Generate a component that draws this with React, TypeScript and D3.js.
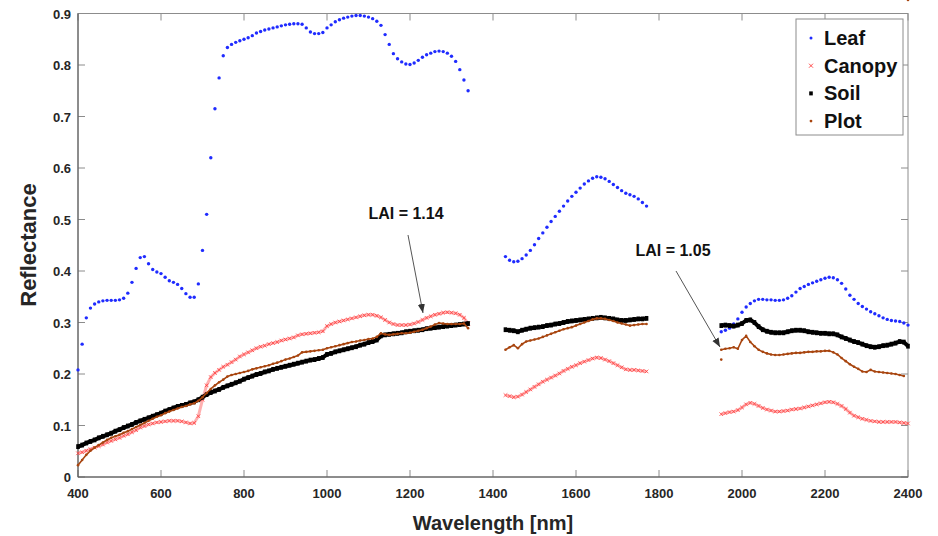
import React from "react";
import * as d3 from "d3";

const W = 938;
const H = 536;

// wavelength grids (nm) of the three measured windows
const wl1 = d3.range(400, 1341, 10);
const wl2 = d3.range(1430, 1771, 10);
const wl3 = d3.range(1950, 2401, 10);

const leaf1 = [0.208,0.258,0.309,0.328,0.336,0.34,0.342,0.343,0.343,0.343,0.344,0.347,0.357,0.378,0.405,0.426,0.428,0.414,0.403,0.398,0.395,0.388,0.381,0.378,0.374,0.366,0.356,0.349,0.349,0.375,0.44,0.51,0.62,0.715,0.775,0.818,0.834,0.84,0.844,0.847,0.85,0.853,0.857,0.862,0.865,0.868,0.87,0.872,0.874,0.876,0.878,0.879,0.88,0.88,0.879,0.872,0.864,0.861,0.861,0.863,0.872,0.878,0.884,0.888,0.891,0.893,0.895,0.896,0.896,0.895,0.893,0.89,0.885,0.877,0.859,0.84,0.822,0.812,0.806,0.802,0.801,0.804,0.809,0.815,0.82,0.823,0.826,0.827,0.826,0.823,0.817,0.807,0.791,0.771,0.75];
const leaf2 = [0.428,0.421,0.418,0.419,0.424,0.431,0.44,0.451,0.463,0.474,0.485,0.496,0.506,0.516,0.526,0.536,0.545,0.553,0.561,0.569,0.575,0.58,0.583,0.582,0.579,0.574,0.568,0.562,0.556,0.551,0.548,0.545,0.54,0.533,0.526];
const leaf3 = [0.282,0.285,0.289,0.297,0.307,0.32,0.33,0.337,0.342,0.345,0.345,0.344,0.344,0.343,0.343,0.344,0.347,0.352,0.359,0.366,0.37,0.374,0.377,0.38,0.383,0.386,0.388,0.387,0.383,0.376,0.365,0.353,0.345,0.337,0.331,0.326,0.321,0.317,0.313,0.309,0.306,0.304,0.303,0.302,0.299,0.295];

const canopy1 = [0.046,0.048,0.051,0.054,0.057,0.06,0.063,0.067,0.07,0.073,0.076,0.08,0.083,0.087,0.091,0.096,0.099,0.102,0.104,0.106,0.107,0.108,0.109,0.109,0.109,0.108,0.106,0.104,0.105,0.118,0.15,0.178,0.194,0.202,0.208,0.214,0.218,0.223,0.228,0.234,0.238,0.242,0.246,0.25,0.253,0.255,0.258,0.26,0.262,0.265,0.267,0.269,0.271,0.275,0.277,0.278,0.279,0.28,0.281,0.283,0.293,0.297,0.3,0.302,0.304,0.306,0.308,0.31,0.312,0.314,0.315,0.315,0.313,0.31,0.305,0.3,0.297,0.295,0.295,0.295,0.296,0.298,0.301,0.305,0.309,0.312,0.315,0.317,0.319,0.32,0.319,0.318,0.315,0.309,0.298];
const canopy2 = [0.159,0.157,0.155,0.156,0.16,0.165,0.17,0.175,0.18,0.185,0.189,0.193,0.197,0.201,0.206,0.21,0.214,0.217,0.221,0.224,0.227,0.23,0.232,0.231,0.228,0.225,0.221,0.217,0.213,0.209,0.208,0.208,0.207,0.206,0.205];
const canopy3 = [0.122,0.124,0.126,0.127,0.13,0.135,0.141,0.144,0.142,0.138,0.134,0.131,0.129,0.127,0.127,0.128,0.129,0.131,0.132,0.133,0.135,0.137,0.139,0.141,0.143,0.145,0.146,0.145,0.142,0.138,0.132,0.125,0.119,0.116,0.113,0.111,0.109,0.108,0.107,0.107,0.107,0.107,0.107,0.106,0.105,0.104];

const soil1 = [0.059,0.062,0.066,0.069,0.072,0.076,0.079,0.082,0.085,0.089,0.092,0.096,0.099,0.102,0.106,0.109,0.112,0.115,0.118,0.121,0.124,0.128,0.131,0.134,0.137,0.139,0.141,0.144,0.146,0.15,0.155,0.16,0.164,0.167,0.17,0.174,0.177,0.18,0.183,0.186,0.19,0.193,0.196,0.199,0.201,0.204,0.206,0.209,0.211,0.213,0.215,0.217,0.219,0.221,0.223,0.225,0.227,0.228,0.23,0.232,0.238,0.24,0.243,0.245,0.247,0.249,0.251,0.253,0.256,0.258,0.261,0.263,0.266,0.274,0.276,0.277,0.278,0.279,0.28,0.282,0.283,0.284,0.285,0.286,0.288,0.289,0.29,0.291,0.292,0.293,0.294,0.295,0.296,0.297,0.298];
const soil2 = [0.286,0.285,0.284,0.282,0.285,0.287,0.289,0.29,0.291,0.292,0.294,0.295,0.297,0.298,0.3,0.302,0.303,0.304,0.305,0.306,0.307,0.308,0.309,0.31,0.309,0.308,0.307,0.305,0.304,0.304,0.305,0.306,0.307,0.307,0.308];
const soil3 = [0.294,0.295,0.294,0.293,0.295,0.298,0.304,0.305,0.3,0.292,0.286,0.283,0.281,0.28,0.28,0.28,0.282,0.284,0.285,0.285,0.284,0.282,0.281,0.28,0.279,0.279,0.278,0.278,0.276,0.272,0.269,0.266,0.263,0.261,0.258,0.255,0.253,0.252,0.253,0.255,0.256,0.258,0.26,0.263,0.262,0.254];

const plot1 = [0.023,0.033,0.043,0.051,0.057,0.062,0.067,0.072,0.076,0.079,0.082,0.086,0.089,0.093,0.097,0.101,0.105,0.109,0.113,0.117,0.12,0.124,0.127,0.13,0.133,0.136,0.138,0.141,0.143,0.148,0.155,0.163,0.171,0.178,0.184,0.189,0.195,0.198,0.2,0.202,0.204,0.206,0.209,0.211,0.213,0.215,0.217,0.22,0.222,0.225,0.228,0.23,0.233,0.236,0.242,0.243,0.244,0.245,0.246,0.247,0.25,0.252,0.254,0.256,0.258,0.26,0.262,0.263,0.265,0.266,0.268,0.269,0.272,0.279,0.277,0.276,0.277,0.278,0.279,0.279,0.28,0.282,0.284,0.286,0.289,0.292,0.296,0.299,0.298,0.297,0.297,0.297,0.297,0.298,0.289];
const plot2 = [0.247,0.252,0.256,0.25,0.258,0.263,0.265,0.267,0.269,0.272,0.275,0.278,0.281,0.284,0.287,0.289,0.291,0.294,0.297,0.3,0.303,0.306,0.308,0.308,0.307,0.305,0.303,0.3,0.298,0.296,0.294,0.295,0.296,0.297,0.297];
const plot3 = [0.228,0.247,0.249,0.25,0.252,0.249,0.266,0.274,0.262,0.254,0.247,0.243,0.24,0.238,0.237,0.237,0.238,0.239,0.24,0.241,0.241,0.242,0.243,0.243,0.244,0.244,0.245,0.245,0.242,0.238,0.231,0.225,0.219,0.214,0.21,0.205,0.204,0.208,0.205,0.204,0.203,0.202,0.201,0.2,0.198,0.196];

const xTicks = [400, 600, 800, 1000, 1200, 1400, 1600, 1800, 2000, 2200, 2400];
const yTicks = [0, 0.1, 0.2, 0.3, 0.4, 0.5, 0.6, 0.7, 0.8, 0.9];
const legendNames = ["Leaf", "Canopy", "Soil", "Plot"];

const C_LEAF = "#1f2bff";
const C_CANOPY = "#ff3b3b";
const C_SOIL = "#000000";
const C_PLOT = "#a8450f";

const FONT = "Arial, 'Liberation Sans', Helvetica, sans-serif";

type Pt = [number, number];
const zip = (w: number[], v: number[]): Pt[] => w.map((d, i) => [d, v[i]] as Pt);

export default function App() {
  const x = d3.scaleLinear().domain([400, 2400]).range([78, 908]);
  const y = d3.scaleLinear().domain([0, 0.9]).range([477, 13.5]);
  const line = d3
    .line<Pt>()
    .x((d) => x(d[0]))
    .y((d) => y(d[1]));

  const leaf = [zip(wl1, leaf1), zip(wl2, leaf2), zip(wl3, leaf3)];
  const canopy = [zip(wl1, canopy1), zip(wl2, canopy2), zip(wl3, canopy3)];
  const soil = [zip(wl1, soil1), zip(wl2, soil2), zip(wl3, soil3)];
  const plot = [zip(wl1, plot1), zip(wl2, plot2), zip(wl3, plot3.slice(1))];
  const plotIsolated = zip(wl3.slice(0, 1), plot3.slice(0, 1));

  const [x0, x1] = x.range();
  const [yb, yt] = y.range();
  const tick = 7;
  const frame = "#8c8c8c";

  const xCross = (px: number, py: number, s: number, key: string) => (
    <path key={key} d={`M${px - s},${py - s}L${px + s},${py + s}M${px - s},${py + s}L${px + s},${py - s}`} />
  );

  return (
    <svg width={W} height={H} style={{ position: "absolute", left: 0, top: 0, background: "#fff" }} fontFamily={FONT}>
      <rect x={0} y={0} width={W} height={H} fill="#fff" />
      {/* frame */}
      <rect x={x0} y={yt} width={x1 - x0} height={yb - yt} fill="none" stroke={frame} strokeWidth={1} />
      {xTicks.map((t) => (
        <g key={"xt" + t}>
          <line x1={x(t)} x2={x(t)} y1={yb} y2={yb - tick} stroke={frame} />
          <line x1={x(t)} x2={x(t)} y1={yt} y2={yt + tick} stroke={frame} />
          <text x={x(t)} y={yb + 21} textAnchor="middle" fontSize={13} fontWeight="bold" fill="#262626">
            {t}
          </text>
        </g>
      ))}
      {yTicks.map((t) => (
        <g key={"yt" + t}>
          <line x1={x0} x2={x0 + tick} y1={y(t)} y2={y(t)} stroke={frame} />
          <line x1={x1} x2={x1 - tick} y1={y(t)} y2={y(t)} stroke={frame} />
          <text x={x0 - 7} y={y(t) + 5} textAnchor="end" fontSize={13} fontWeight="bold" fill="#262626">
            {t === 0 ? "0" : String(t)}
          </text>
        </g>
      ))}
      <line x1={x0} x2={x0} y1={yt} y2={yb} stroke="#555" />
      <line x1={x0} x2={x1} y1={yb} y2={yb} stroke="#555" />

      {/* axis titles */}
      <text x={493} y={530} textAnchor="middle" fontSize={20} fontWeight="bold" fill="#262626">
        Wavelength [nm]
      </text>
      <text transform="translate(36,245) rotate(-90)" textAnchor="middle" fontSize={22} fontWeight="bold" fill="#262626">
        Reflectance
      </text>

      {/* Leaf */}
      <g fill={C_LEAF}>
        {leaf.flat().map((d, i) => (
          <circle key={"l" + i} cx={x(d[0])} cy={y(d[1])} r={1.7} />
        ))}
      </g>

      {/* Canopy */}
      <g>
        {canopy.map((s, i) => (
          <path key={"cl" + i} d={line(s) || ""} fill="none" stroke="#ff7070" strokeWidth={3} strokeOpacity={0.55} />
        ))}
        <g stroke={C_CANOPY} strokeWidth={0.8} fill="none">
          {canopy.flat().map((d, i) => xCross(x(d[0]), y(d[1]), 1.8, "c" + i))}
        </g>
      </g>

      {/* Soil */}
      <g>
        {soil.map((s, i) => (
          <path key={"sl" + i} d={line(s) || ""} fill="none" stroke={C_SOIL} strokeWidth={4} />
        ))}
        <g fill={C_SOIL}>
          {soil.flat().map((d, i) => (
            <rect key={"s" + i} x={x(d[0]) - 1.8} y={y(d[1]) - 2.4} width={3.6} height={4.8} />
          ))}
        </g>
      </g>

      {/* Plot */}
      <g>
        {plot.map((s, i) => (
          <path key={"pl" + i} d={line(s) || ""} fill="none" stroke={C_PLOT} strokeWidth={1.6} />
        ))}
        <g fill={C_PLOT}>
          {plot.flat().concat(plotIsolated).map((d, i) => (
            <circle key={"p" + i} cx={x(d[0])} cy={y(d[1])} r={1.3} />
          ))}
        </g>
      </g>

      {/* annotations */}
      <defs>
        <marker id="arr" viewBox="0 0 10 10" refX="10" refY="5" markerWidth="9" markerHeight="9" markerUnits="userSpaceOnUse" orient="auto">
          <path d="M0,1L10,5L0,9Z" fill="#333" />
        </marker>
      </defs>
      <text x={406} y={219} textAnchor="middle" fontSize={16} fontWeight="bold" fill="#111">
        LAI = 1.14
      </text>
      <line x1={408} y1={235} x2={423} y2={313} stroke="#555" strokeWidth={1} markerEnd="url(#arr)" />
      <text x={673} y={256} textAnchor="middle" fontSize={16} fontWeight="bold" fill="#111">
        LAI = 1.05
      </text>
      <line x1={676} y1={271} x2={720} y2={347} stroke="#555" strokeWidth={1} markerEnd="url(#arr)" />

      {/* legend */}
      <rect x={796} y={19} width={107} height={116} fill="#fff" stroke="#8c8c8c" strokeWidth={1} />
      {legendNames.map((n, i) => {
        const ly = 38 + i * 27.7;
        const lx = 811;
        return (
          <g key={n}>
            {i === 0 && <circle cx={lx} cy={ly} r={1.5} fill={C_LEAF} />}
            {i === 1 && (
              <g stroke={C_CANOPY} strokeWidth={0.9}>
                {xCross(lx, ly, 2, "lc")}
              </g>
            )}
            {i === 2 && <rect x={lx - 1.8} y={ly - 2} width={3.6} height={4} fill={C_SOIL} />}
            {i === 3 && <circle cx={lx} cy={ly} r={1.4} fill={C_PLOT} />}
            <text x={824} y={ly + 7} fontSize={20} fontWeight="bold" fill="#111">
              {n}
            </text>
          </g>
        );
      })}
    </svg>
  );
}
